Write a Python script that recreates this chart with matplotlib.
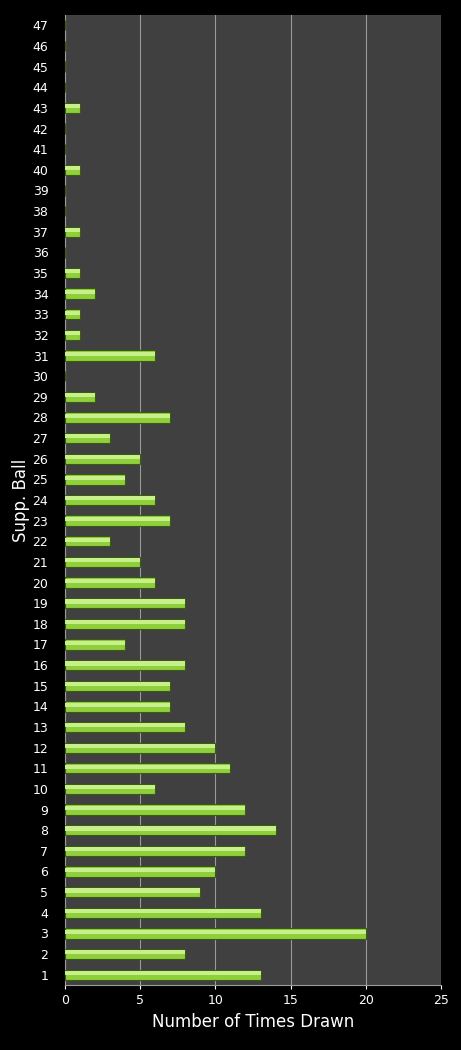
import matplotlib.pyplot as plt
import numpy as np

balls = list(range(1, 48))
counts = [13, 8, 20, 13, 9, 10, 12, 14, 12, 6,
          11, 10, 8, 7, 7, 8, 4, 8, 8, 6,
          5, 3, 7, 6, 4, 5, 3, 7, 2, 0,
          6, 1, 1, 2, 1, 0, 1, 0, 0, 1,
          0, 0, 1, 0, 0, 0, 0]

fig = plt.figure(figsize=(4.61, 10.5), dpi=100, facecolor="black")
ax = fig.add_axes([65 / 461, 1 - 985 / 1050, 376 / 461, 970 / 1050])
ax.set_facecolor("#404040")

y = np.array(balls)
ax.barh(y, counts, height=0.5, color="#8fcf3c", edgecolor="#3d5a14", linewidth=0.8, zorder=3)
# highlight stripe to mimic the gradient
ax.barh(y + 0.08, counts, height=0.2, color="#c8f08a", linewidth=0, zorder=4)

ax.set_xlim(0, 25)
ax.set_ylim(0.5, 47.5)
ax.set_xticks(range(0, 26, 5))
ax.set_yticks(balls)
ax.grid(axis="x", color="#9a9a9a", linewidth=0.8, zorder=0)
for s in ax.spines.values():
    s.set_visible(False)
ax.spines["left"].set_visible(True)
ax.spines["left"].set_color("#9a9a9a")
ax.spines["bottom"].set_visible(True)
ax.spines["bottom"].set_color("#9a9a9a")
ax.tick_params(colors="white", labelsize=9, length=3)
ax.tick_params(axis="y", length=0, pad=12)
ax.set_xlabel("Number of Times Drawn", color="white", fontsize=12)
ax.set_ylabel("Supp. Ball", color="white", fontsize=12, labelpad=2)

fig.savefig("out.png", dpi=100, facecolor="black")
